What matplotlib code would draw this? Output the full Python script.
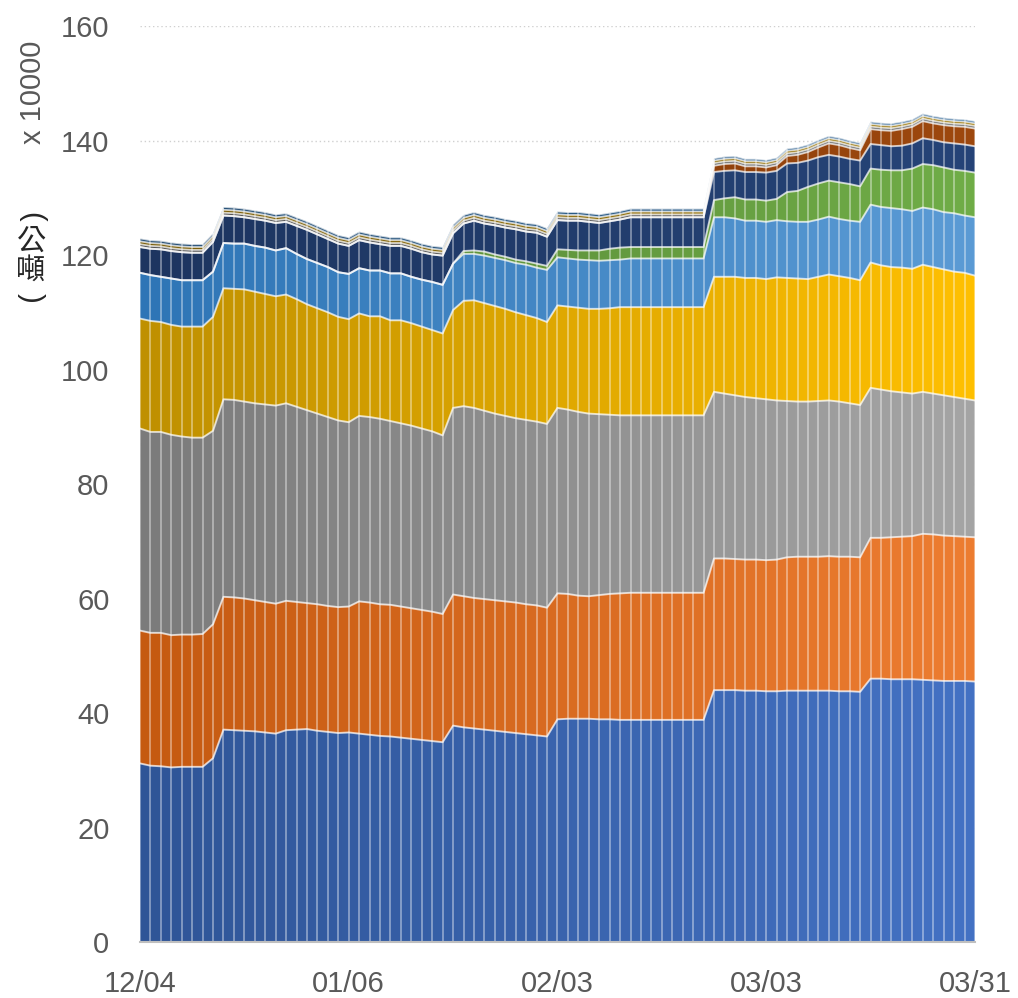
import numpy as np
import matplotlib.pyplot as plt
from matplotlib.colors import to_rgb

plt.rcParams["font.family"] = ["Liberation Sans", "Noto Sans CJK TC", "DejaVu Sans"]

tick_pos = [0, 20, 40, 60, 80]
tick_labels = ["12/04", "01/06", "02/03", "03/03", "03/31"]

blue = [31.2, 30.8, 30.7, 30.5, 30.6, 30.6, 30.6, 32.1, 37.1, 37.0,
        36.9, 36.8, 36.6, 36.4, 37.0, 37.1, 37.2, 36.9, 36.7, 36.5,
        36.6, 36.4, 36.2, 36.0, 35.9, 35.7, 35.5, 35.3, 35.1, 34.9,
        37.8, 37.5, 37.3, 37.1, 36.9, 36.7, 36.5, 36.3, 36.1, 35.9,
        38.9, 39.0, 39.0, 39.0, 38.9, 38.9, 38.8, 38.8, 38.8, 38.8,
        38.8, 38.8, 38.8, 38.8, 38.8, 44.0, 44.0, 44.0, 43.9, 43.9,
        43.8, 43.8, 43.9, 43.9, 43.9, 43.9, 43.9, 43.8, 43.8, 43.7,
        46.0, 46.0, 45.9, 45.9, 45.9, 45.8, 45.7, 45.6, 45.6, 45.6, 45.5]

orange = [23.2, 23.2, 23.3, 23.1, 23.1, 23.1, 23.2, 23.4, 23.2, 23.2,
          23.1, 22.9, 22.8, 22.7, 22.6, 22.3, 22.0, 22.1, 22.0, 22.0,
          22.0, 23.1, 23.1, 23.0, 23.0, 22.9, 22.8, 22.7, 22.6, 22.4,
          22.9, 22.9, 22.8, 22.8, 22.8, 22.8, 22.8, 22.7, 22.7, 22.5,
          22.0, 21.8, 21.5, 21.4, 21.7, 21.9, 22.1, 22.2, 22.2, 22.2,
          22.2, 22.2, 22.2, 22.2, 22.2, 23.0, 23.0, 22.9, 22.9, 22.9,
          22.9, 23.0, 23.3, 23.4, 23.4, 23.4, 23.5, 23.5, 23.5, 23.5,
          24.6, 24.6, 24.8, 24.9, 25.0, 25.5, 25.5, 25.4, 25.3, 25.2, 25.2]

gray = [35.3, 35.1, 35.1, 35.0, 34.6, 34.4, 34.3, 33.8, 34.5, 34.5,
        34.4, 34.4, 34.5, 34.6, 34.5, 34.1, 33.7, 33.3, 33.0, 32.6,
        32.2, 32.4, 32.4, 32.4, 32.1, 32.0, 31.9, 31.7, 31.5, 31.2,
        32.6, 33.2, 33.2, 32.9, 32.6, 32.4, 32.2, 32.2, 32.1, 32.1,
        32.4, 32.2, 32.1, 31.9, 31.6, 31.3, 31.1, 31.0, 31.0, 31.0,
        31.0, 31.0, 31.0, 31.0, 31.0, 29.1, 28.8, 28.6, 28.4, 28.2,
        28.1, 27.8, 27.3, 27.1, 27.1, 27.2, 27.2, 27.1, 26.8, 26.6,
        26.2, 25.9, 25.5, 25.2, 24.9, 24.8, 24.6, 24.5, 24.3, 24.1, 23.9]

gold = [19.2, 19.4, 19.2, 19.2, 19.2, 19.4, 19.4, 19.9, 19.4, 19.4,
        19.6, 19.5, 19.3, 19.1, 19.0, 18.8, 18.5, 18.4, 18.3, 18.1,
        18.0, 17.9, 17.6, 17.9, 17.6, 18.0, 17.9, 17.8, 17.7, 17.8,
        17.1, 18.4, 18.8, 18.8, 18.8, 18.7, 18.5, 18.3, 18.1, 17.8,
        17.9, 18.0, 18.2, 18.3, 18.4, 18.6, 18.9, 18.9, 18.9, 18.9,
        18.9, 18.9, 18.9, 18.9, 18.9, 20.1, 20.4, 20.7, 20.8, 21.0,
        21.0, 21.5, 21.5, 21.5, 21.4, 21.7, 22.0, 21.9, 21.9, 21.8,
        21.9, 21.7, 21.7, 21.8, 21.8, 22.2, 22.1, 22.0, 21.9, 22.0, 21.8]

light_blue = [8.0, 8.0, 7.9, 8.1, 8.1, 8.1, 8.1, 7.9, 7.9, 7.9,
              8.0, 8.0, 8.1, 8.0, 8.1, 7.9, 7.9, 7.9, 7.9, 7.8,
              7.9, 7.9, 8.0, 8.0, 8.2, 8.2, 8.1, 8.2, 8.4, 8.5,
              8.1, 8.2, 8.1, 8.3, 8.4, 8.5, 8.6, 8.8, 8.8, 9.1,
              8.4, 8.4, 8.4, 8.5, 8.4, 8.4, 8.3, 8.5, 8.5, 8.5,
              8.5, 8.5, 8.5, 8.5, 8.5, 10.4, 10.4, 10.2, 10.0, 10.0,
              10.0, 10.0, 9.9, 9.9, 10.0, 10.0, 10.1, 10.0, 10.0, 10.2,
              10.1, 10.2, 10.3, 10.2, 10.1, 10.0, 10.1, 10.0, 10.2, 10.0, 10.2]

green = [0.0, 0.0, 0.0, 0.0, 0.0, 0.0, 0.0, 0.0, 0.0, 0.0,
         0.0, 0.0, 0.0, 0.0, 0.0, 0.0, 0.0, 0.0, 0.0, 0.0,
         0.0, 0.0, 0.0, 0.0, 0.0, 0.0, 0.0, 0.0, 0.0, 0.0,
         0.0, 0.5, 0.6, 0.7, 0.6, 0.6, 0.6, 0.6, 0.7, 0.7,
         1.4, 1.5, 1.6, 1.7, 1.8, 2.0, 2.1, 2.0, 2.0, 2.0,
         2.0, 2.0, 2.0, 2.0, 2.0, 3.0, 3.3, 3.7, 3.7, 3.7,
         3.7, 3.7, 5.1, 5.4, 6.1, 6.3, 6.3, 6.4, 6.4, 6.2,
         6.3, 6.5, 6.6, 6.8, 7.4, 7.6, 7.7, 7.8, 7.6, 7.8, 7.8]

navy = [4.5, 4.6, 4.8, 4.8, 4.9, 4.8, 4.8, 5.2, 4.8, 4.8,
        4.6, 4.7, 4.7, 4.8, 4.6, 4.9, 5.1, 5.0, 4.9, 5.0,
        4.9, 4.9, 4.9, 4.6, 4.8, 4.8, 4.9, 4.8, 4.8, 5.1,
        5.3, 4.8, 5.2, 4.9, 5.1, 5.1, 5.3, 5.2, 5.4, 5.1,
        5.1, 5.1, 5.2, 5.0, 4.8, 4.8, 4.9, 5.2, 5.2, 5.2,
        5.2, 5.2, 5.2, 5.2, 5.2, 4.9, 4.8, 4.7, 4.8, 4.8,
        4.9, 4.9, 5.0, 4.9, 4.6, 4.6, 4.5, 4.5, 4.4, 4.5,
        4.3, 4.3, 4.2, 4.3, 4.4, 4.5, 4.4, 4.4, 4.6, 4.6, 4.6]

brown = [0.0, 0.0, 0.0, 0.0, 0.0, 0.0, 0.0, 0.0, 0.0, 0.0,
         0.0, 0.0, 0.0, 0.0, 0.0, 0.0, 0.0, 0.0, 0.0, 0.0,
         0.0, 0.0, 0.0, 0.0, 0.0, 0.0, 0.0, 0.0, 0.0, 0.0,
         0.0, 0.0, 0.0, 0.0, 0.0, 0.0, 0.0, 0.0, 0.0, 0.0,
         0.0, 0.0, 0.0, 0.0, 0.0, 0.0, 0.0, 0.0, 0.0, 0.0,
         0.0, 0.0, 0.0, 0.0, 0.0, 1.1, 1.2, 1.2, 1.0, 1.0,
         0.9, 1.0, 1.3, 1.4, 1.5, 1.7, 2.0, 2.0, 1.9, 1.8,
         2.6, 2.6, 2.7, 2.9, 2.9, 3.0, 2.9, 3.0, 3.0, 3.1, 3.1]

dark_gray = [0.5, 0.5, 0.5, 0.5, 0.5, 0.5, 0.5, 0.5, 0.5, 0.5,
             0.5, 0.5, 0.5, 0.5, 0.5, 0.5, 0.5, 0.5, 0.5, 0.5,
             0.5, 0.5, 0.5, 0.5, 0.5, 0.5, 0.5, 0.5, 0.5, 0.5,
             0.5, 0.5, 0.5, 0.5, 0.5, 0.5, 0.5, 0.5, 0.5, 0.5,
             0.5, 0.5, 0.5, 0.5, 0.5, 0.5, 0.5, 0.5, 0.5, 0.5,
             0.5, 0.5, 0.5, 0.5, 0.5, 0.45, 0.45, 0.45, 0.45, 0.45,
             0.45, 0.45, 0.45, 0.45, 0.45, 0.45, 0.45, 0.45, 0.45, 0.45,
             0.45, 0.45, 0.45, 0.45, 0.45, 0.45, 0.45, 0.45, 0.45, 0.45, 0.45]

dark_gold = [0.5, 0.5, 0.5, 0.5, 0.5, 0.5, 0.5, 0.5, 0.5, 0.5,
             0.5, 0.5, 0.5, 0.5, 0.5, 0.5, 0.5, 0.5, 0.5, 0.5,
             0.5, 0.5, 0.5, 0.5, 0.5, 0.5, 0.5, 0.5, 0.5, 0.5,
             0.5, 0.5, 0.5, 0.5, 0.5, 0.5, 0.5, 0.5, 0.5, 0.5,
             0.5, 0.5, 0.5, 0.5, 0.5, 0.5, 0.5, 0.5, 0.5, 0.5,
             0.5, 0.5, 0.5, 0.5, 0.5, 0.45, 0.45, 0.45, 0.45, 0.45,
             0.45, 0.45, 0.45, 0.45, 0.45, 0.45, 0.45, 0.45, 0.45, 0.45,
             0.45, 0.45, 0.45, 0.45, 0.45, 0.45, 0.45, 0.45, 0.45, 0.45, 0.45]

steel = [0.5, 0.5, 0.5, 0.5, 0.5, 0.5, 0.5, 0.5, 0.5, 0.5,
         0.5, 0.5, 0.5, 0.5, 0.5, 0.5, 0.5, 0.5, 0.5, 0.5,
         0.5, 0.5, 0.5, 0.5, 0.5, 0.5, 0.5, 0.5, 0.5, 0.5,
         0.5, 0.5, 0.5, 0.5, 0.5, 0.5, 0.5, 0.5, 0.5, 0.5,
         0.5, 0.5, 0.5, 0.5, 0.5, 0.5, 0.5, 0.5, 0.5, 0.5,
         0.5, 0.5, 0.5, 0.5, 0.5, 0.4, 0.4, 0.4, 0.4, 0.4,
         0.4, 0.4, 0.4, 0.4, 0.4, 0.4, 0.4, 0.4, 0.4, 0.4,
         0.4, 0.4, 0.4, 0.4, 0.4, 0.4, 0.4, 0.4, 0.4, 0.4, 0.4]

layers = [blue, orange, gray, gold, light_blue, green, navy, brown,
          dark_gray, dark_gold, steel]
# darker shade on the left, fading to the base shade on the right
colors_left = ["#2F5597", "#C55A11", "#7B7B7B", "#BF9000", "#2E75B6", "#548235",
               "#1D3560", "#76360A", "#4A4A4A", "#735600", "#1C466D"]
colors_right = ["#4472C4", "#ED7D31", "#A5A5A5", "#FFC000", "#5B9BD5", "#70AD47",
                "#264478", "#9E480E", "#636363", "#997300", "#255E91"]

n = len(blue)
x = np.arange(n)

fig = plt.figure(figsize=(10.18, 9.98), dpi=100)
ax = fig.add_axes([0.1375, 0.0561, 0.8202, 0.9178])

grad = np.linspace(0, 1, 256)
base = np.zeros(n)
for vals, c_left, c_right in zip(layers, colors_left, colors_right):
    top = base + np.array(vals)
    poly = ax.fill_between(x, base, top, facecolor="none", edgecolor="none")
    left = np.array(to_rgb(c_left))
    right = np.array(to_rgb(c_right))
    img = left[None, None, :] * (1 - grad)[None, :, None] + right[None, None, :] * grad[None, :, None]
    im = ax.imshow(img, extent=(0, n - 1, 0, 160), aspect="auto", origin="lower",
                   interpolation="bilinear", zorder=1)
    im.set_clip_path(poly.get_paths()[0], ax.transData)
    ax.plot(x, top, color="white", alpha=0.7, lw=1.4, zorder=3)
    base = top

ax.vlines(x, 0, base, color="white", alpha=0.42, lw=1.3, zorder=2)

ax.set_xlim(0, n - 1)
ax.set_ylim(0, 160)
ax.set_yticks(range(0, 161, 20))
ax.set_xticks(tick_pos)
ax.set_xticklabels(tick_labels)
ax.yaxis.grid(True, color="#D0D0D0", linestyle=(0, (1, 2)), lw=1)
ax.set_axisbelow(True)

for side in ["left", "right", "top"]:
    ax.spines[side].set_visible(False)
ax.spines["bottom"].set_color("#BFBFBF")
ax.spines["bottom"].set_linewidth(1.5)
ax.spines["bottom"].set_zorder(4)

ax.tick_params(axis="both", length=0, labelsize=21, labelcolor="#595959")
ax.tick_params(axis="y", pad=22)
ax.tick_params(axis="x", pad=20)

fig.text(33 / 1018, 1 - 92 / 998, "x 10000", rotation=90, ha="center", va="center",
         fontsize=21, color="#595959")
# vertical unit label: brackets turned sideways, characters upright
fig.text(31 / 1018, 1 - 217 / 998, "(", rotation=-90, ha="center", va="center",
         fontsize=21, color="#262626")
fig.text(31 / 1018, 1 - 242 / 998, "公", ha="center", va="center", fontsize=21,
         color="#262626", family=["Noto Sans CJK TC"])
fig.text(31 / 1018, 1 - 271 / 998, "噸", ha="center", va="center", fontsize=21,
         color="#262626", family=["Noto Sans CJK TC"])
fig.text(31 / 1018, 1 - 298 / 998, ")", rotation=-90, ha="center", va="center",
         fontsize=21, color="#262626")

fig.savefig("out.png", dpi=100)
plt.close(fig)
